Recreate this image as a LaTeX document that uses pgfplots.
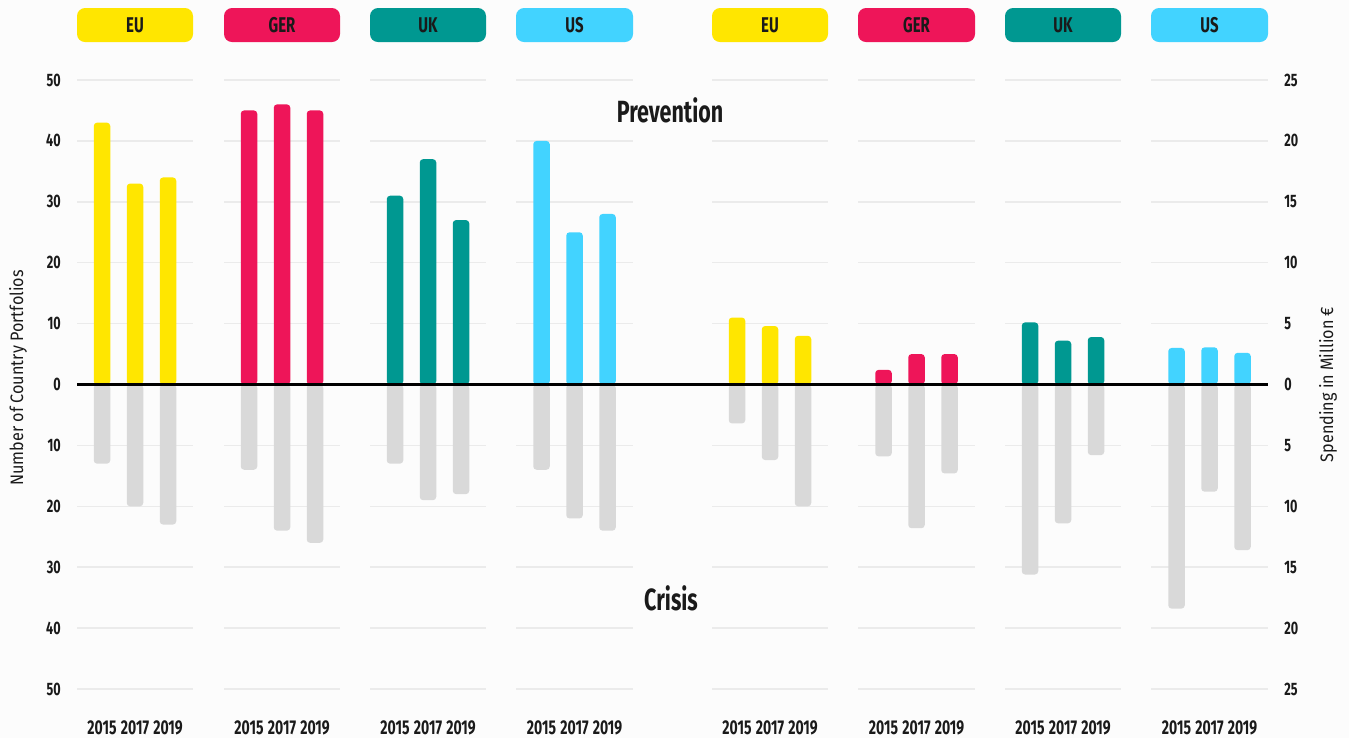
\documentclass[border=0pt]{standalone}
\usepackage{pgfplots}
\pgfplotsset{compat=1.18}
\usepackage{fontspec}
\setmainfont{Fira Sans}[FakeStretch=0.7]
\newfontfamily\titlefont{Fira Sans}[FakeStretch=0.9]

\definecolor{eu}{HTML}{FFE600}
\definecolor{ger}{HTML}{EE1559}
\definecolor{uk}{HTML}{009891}
\definecolor{us}{HTML}{42D3FF}
\definecolor{crisis}{HTML}{D9D9D9}
\definecolor{gridc}{HTML}{EBEBEB}
\definecolor{bg}{HTML}{FCFCFC}
\definecolor{txt}{HTML}{1A1A1A}

% 1 px of the reference = 0.75pt
\pgfplotsset{
  base/.style={
    at={(0,0)}, anchor=south west,
    width=1011.75pt, height=553.5pt, scale only axis,
    xmin=0, xmax=1349, enlargelimits=false, clip=false,
    axis line style={draw=none}, major tick length=0pt, tick style={draw=none},
    ybar, bar width=16.5, bar shift=0pt,
  },
  bars/.style={draw=none, fill=#1, bar shift=0pt, rounded corners=2.5pt},
}

\newcommand\header[4]{%
  \fill[#3, rounded corners=6pt] (axis cs:#1,56.24) rectangle (axis cs:#2,61.82);
  \node[txt, font=\fontsize{16}{17}\selectfont\bfseries] at (axis cs:{(#1+#2)/2},59.03) {#4};
}

\begin{document}
\begin{tikzpicture}
\begin{axis}[base,
  ymin=-58.05, ymax=63.14,
  axis background/.style={fill=bg},
  ytick={-50,-40,...,50},
  yticklabels={50,40,30,20,10,0,10,20,30,40,50},
  ytick pos=left,
  yticklabel style={anchor=east, inner sep=0pt, xshift=45.75pt, text=txt,
    font=\fontsize{13.5}{14}\selectfont\bfseries},
  xtick={102,135,168,249,282,315,395,428,461,541.5,574.5,607.5,
         737,770,803,883.5,916.5,949.5,1030,1063,1096,1176.5,1209.5,1242.5},
  xticklabels={2015,2017,2019,2015,2017,2019,2015,2017,2019,2015,2017,2019,
               2015,2017,2019,2015,2017,2019,2015,2017,2019,2015,2017,2019},
  xtick pos=bottom,
  xticklabel style={anchor=base, inner sep=0pt, yshift=3pt, text=txt,
    font=\fontsize{15}{16}\selectfont\bfseries},
]
% grid segments, one per group
\pgfplotsinvokeforeach{-50,-40,-30,-20,-10,10,20,30,40,50}{
  \draw[gridc, line width=1.1pt]
    (axis cs:77,#1) -- (axis cs:193,#1)
    (axis cs:224,#1) -- (axis cs:340,#1)
    (axis cs:370,#1) -- (axis cs:486,#1)
    (axis cs:516,#1) -- (axis cs:633,#1)
    (axis cs:712,#1) -- (axis cs:828,#1)
    (axis cs:858,#1) -- (axis cs:975,#1)
    (axis cs:1005,#1) -- (axis cs:1121,#1)
    (axis cs:1151,#1) -- (axis cs:1268,#1);
}

\header{77}{193}{eu}{EU}
\header{224}{340}{ger}{GER}
\header{370}{486}{uk}{UK}
\header{516}{633}{us}{US}
\header{712}{828}{eu}{EU}
\header{858}{975}{ger}{GER}
\header{1005}{1121}{uk}{UK}
\header{1151}{1268}{us}{US}

% number of country portfolios: prevention up, crisis down
\addplot[bars=eu] coordinates {(102,43) (135,33) (168,34)};
\addplot[bars=crisis] coordinates {(102,-13) (135,-20) (168,-23)};
\addplot[bars=ger] coordinates {(249,45) (282,46) (315,45)};
\addplot[bars=crisis] coordinates {(249,-14) (282,-24) (315,-26)};
\addplot[bars=uk] coordinates {(395,31) (428,37) (461,27)};
\addplot[bars=crisis] coordinates {(395,-13) (428,-19) (461,-18)};
\addplot[bars=us] coordinates {(541.5,40) (574.5,25) (607.5,28)};
\addplot[bars=crisis] coordinates {(541.5,-14) (574.5,-22) (607.5,-24)};

\node[txt, font=\fontsize{23}{24}\selectfont\bfseries] at (axis cs:670,45.1) {Prevention};
\node[txt, font=\fontsize{23}{24}\selectfont\bfseries] at (axis cs:671,-35.06) {Crisis};
\node[txt, rotate=90, font=\fontsize{13.5}{14}\titlefont] at (axis cs:18,1.07) {Number of Country Portfolios};
\end{axis}

\begin{axis}[base,
  ymin=-29.025, ymax=31.57,
  hide x axis,
  ytick={-25,-20,...,25},
  yticklabels={25,20,15,10,5,0,5,10,15,20,25},
  ytick pos=right,
  yticklabel style={anchor=west, inner sep=0pt, xshift=-48.75pt, text=txt,
    font=\fontsize{13.5}{14}\selectfont\bfseries},
]
% spending in million euro
\addplot[bars=eu] coordinates {(737,5.5) (770,4.8) (803,4.0)};
\addplot[bars=crisis] coordinates {(737,-3.2) (770,-6.2) (803,-10.0)};
\addplot[bars=ger] coordinates {(883.5,1.2) (916.5,2.5) (949.5,2.5)};
\addplot[bars=crisis] coordinates {(883.5,-5.9) (916.5,-11.8) (949.5,-7.3)};
\addplot[bars=uk] coordinates {(1030,5.1) (1063,3.6) (1096,3.9)};
\addplot[bars=crisis] coordinates {(1030,-15.6) (1063,-11.4) (1096,-5.8)};
\addplot[bars=us] coordinates {(1176.5,3.0) (1209.5,3.05) (1242.5,2.6)};
\addplot[bars=crisis] coordinates {(1176.5,-18.4) (1209.5,-8.8) (1242.5,-13.6)};

\draw[black, line width=1.8pt] (axis cs:77,0) -- (axis cs:1268,0);
\node[txt, rotate=90, font=\fontsize{13.5}{14}\titlefont] at (axis cs:1328,0) {Spending in Million €};
\end{axis}
\end{tikzpicture}
\end{document}
